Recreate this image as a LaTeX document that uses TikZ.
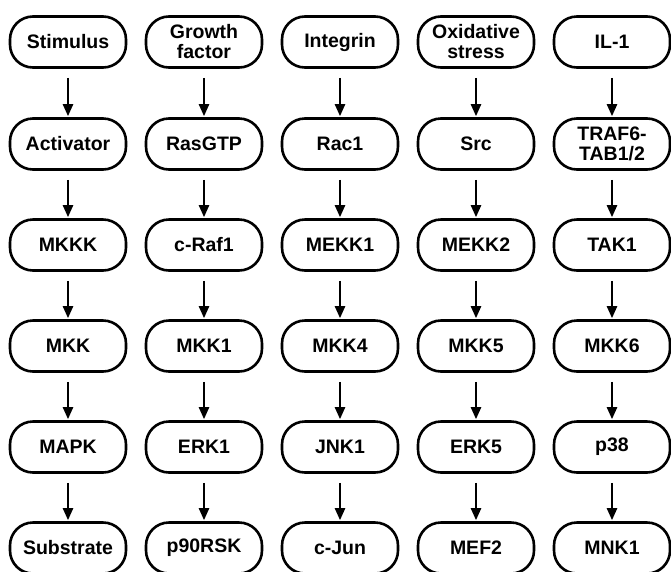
\documentclass[tikz,border=0pt]{standalone}
\usepackage{fontspec}
\setmainfont{Liberation Sans}
\usetikzlibrary{arrows.meta}
\begin{document}
\begin{tikzpicture}[x=1pt,y=-1pt,
  box/.style={draw, line width=2.6pt, rounded corners=23pt, minimum width=116pt,
    minimum height=51pt, inner sep=0pt, align=center,
    font=\bfseries\fontsize{19.5}{20}\selectfont},
  arr/.style={-{Triangle[length=12pt,width=10pt]}, line width=2.3pt,
    shorten <=9pt, shorten >=1pt}]
\path[use as bounding box] (0,0) rectangle (671,571);
\clip (0,0) rectangle (671,571);
% column 1
\node[box] (a1) at (68,42) {Stimulus};
\node[box] (a2) at (68,144) {Activator};
\node[box] (a3) at (68,245) {MKKK};
\node[box] (a4) at (68,346) {MKK};
\node[box] (a5) at (68,447) {MAPK};
\node[box] (a6) at (68,548) {Substrate};
% column 2
\node[box] (b1) at (204,42) {Growth\\factor};
\node[box] (b2) at (204,144) {RasGTP};
\node[box] (b3) at (204,245) {c-Raf1};
\node[box] (b4) at (204,346) {MKK1};
\node[box] (b5) at (204,447) {ERK1};
\node[box] (b6) at (204,548) {p90RSK};
% column 3
\node[box] (c1) at (340,42) {Integrin};
\node[box] (c2) at (340,144) {Rac1};
\node[box] (c3) at (340,245) {MEKK1};
\node[box] (c4) at (340,346) {MKK4};
\node[box] (c5) at (340,447) {JNK1};
\node[box] (c6) at (340,548) {c-Jun};
% column 4
\node[box] (d1) at (476,42) {Oxidative\\stress};
\node[box] (d2) at (476,144) {Src};
\node[box] (d3) at (476,245) {MEKK2};
\node[box] (d4) at (476,346) {MKK5};
\node[box] (d5) at (476,447) {ERK5};
\node[box] (d6) at (476,548) {MEF2};
% column 5
\node[box] (e1) at (612,42) {IL-1};
\node[box] (e2) at (612,144) {TRAF6-\\TAB1/2};
\node[box] (e3) at (612,245) {TAK1};
\node[box] (e4) at (612,346) {MKK6};
\node[box] (e5) at (612,447) {p38};
\node[box] (e6) at (612,548) {MNK1};
% arrows
\foreach \col in {a,b,c,d,e}{
  \foreach \r [evaluate=\r as \n using int(\r+1)] in {1,...,5}{
    \draw[arr] (\col\r.south) -- (\col\n.north);
  }
}
\end{tikzpicture}
\end{document}
